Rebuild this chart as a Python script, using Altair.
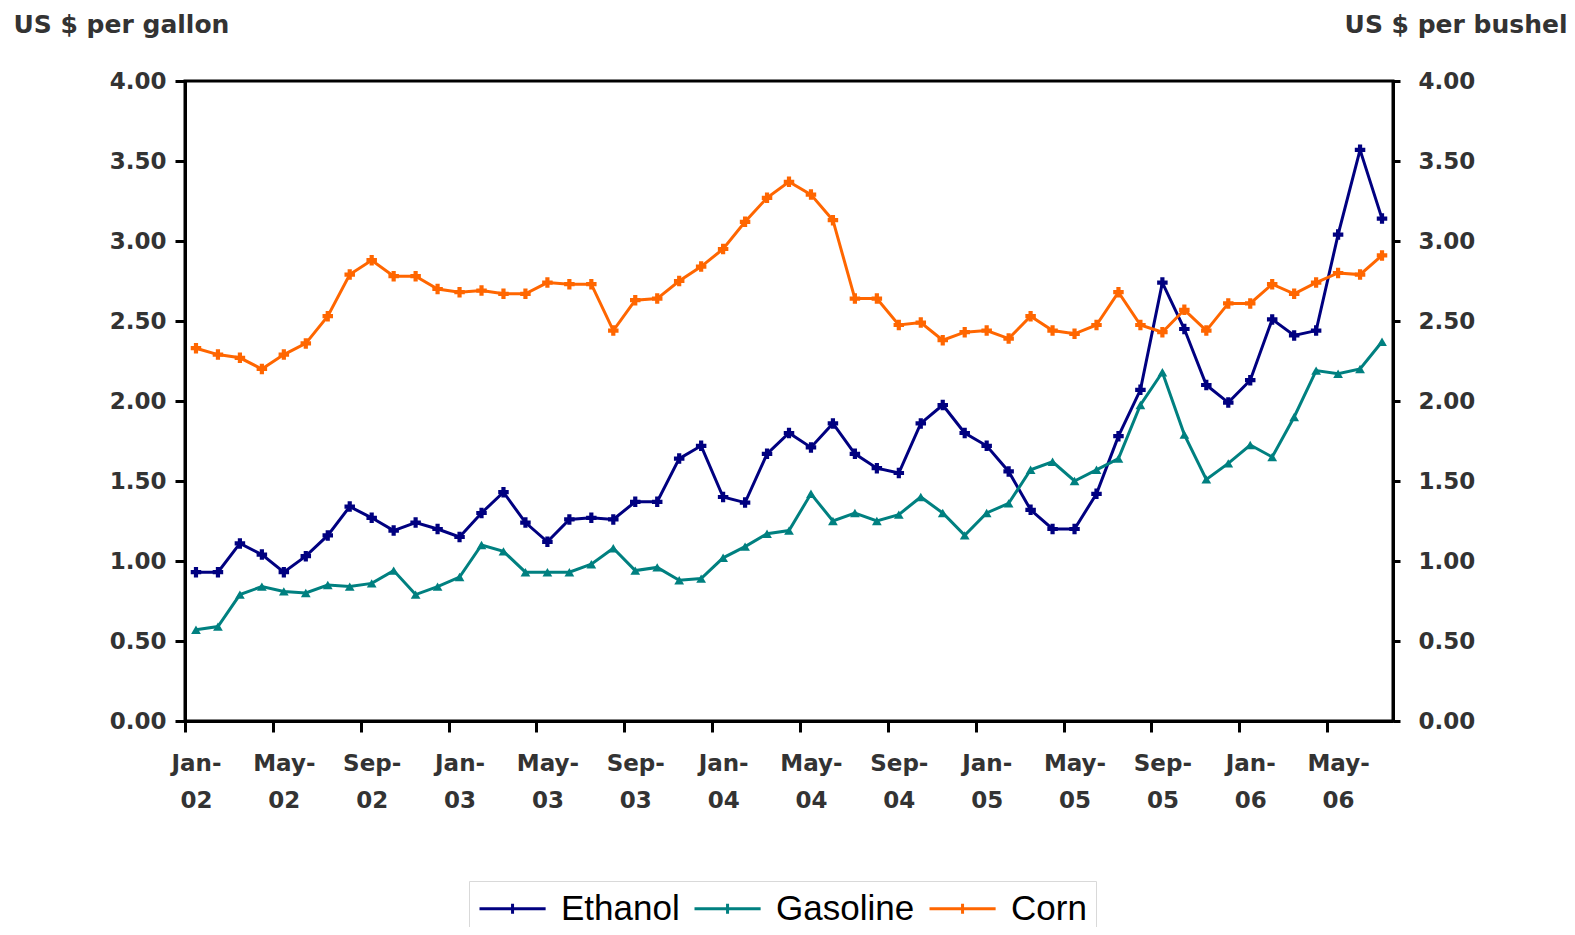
import json
import altair as alt
import pandas as pd

# ---- data (monthly, Jan-02 .. Jul-06) ----
series_names = ["Ethanol", "Gasoline", "Corn"]
series_colors = ["#000080", "#008080", "#FF6600"]

ethanol = [0.93, 0.93, 1.11, 1.04, 0.93, 1.03, 1.16, 1.34, 1.27, 1.19,
           1.24, 1.20, 1.15, 1.30, 1.43, 1.24, 1.12, 1.26, 1.27, 1.26,
           1.37, 1.37, 1.64, 1.72, 1.40, 1.365, 1.67, 1.80, 1.71, 1.86,
           1.67, 1.58, 1.55, 1.86, 1.975, 1.80, 1.72, 1.56, 1.32, 1.20,
           1.20, 1.42, 1.78, 2.07, 2.74, 2.45, 2.10, 1.99, 2.13, 2.51,
           2.41, 2.44, 3.04, 3.57, 3.14]

gasoline = [0.57, 0.59, 0.79, 0.84, 0.81, 0.80, 0.85, 0.84, 0.86, 0.94,
            0.79, 0.84, 0.90, 1.10, 1.06, 0.93, 0.93, 0.93, 0.98, 1.08,
            0.94, 0.96, 0.88, 0.89, 1.02, 1.09, 1.17, 1.19, 1.42, 1.25,
            1.30, 1.25, 1.29, 1.40, 1.30, 1.16, 1.30, 1.36, 1.57, 1.62,
            1.50, 1.57, 1.64, 1.975, 2.18, 1.79, 1.51, 1.61, 1.725, 1.65,
            1.90, 2.19, 2.17, 2.20, 2.37]

corn = [2.33, 2.29, 2.27, 2.20, 2.29, 2.36, 2.53, 2.79, 2.88, 2.78,
        2.78, 2.70, 2.68, 2.69, 2.67, 2.67, 2.74, 2.73, 2.73, 2.44,
        2.63, 2.64, 2.75, 2.84, 2.95, 3.12, 3.27, 3.37, 3.29, 3.13,
        2.64, 2.64, 2.475, 2.49, 2.38, 2.43, 2.44, 2.39, 2.53, 2.44,
        2.42, 2.475, 2.68, 2.475, 2.43, 2.57, 2.44, 2.61, 2.61, 2.73,
        2.67, 2.74, 2.80, 2.79, 2.91]

x_tick_labels = ["Jan-02", "May-02", "Sep-02", "Jan-03", "May-03", "Sep-03",
                 "Jan-04", "May-04", "Sep-04", "Jan-05", "May-05", "Sep-05",
                 "Jan-06", "May-06"]
y_ticks = [0, 0.5, 1, 1.5, 2, 2.5, 3, 3.5, 4]

n = len(ethanol)
idx = list(range(n))

df_left = pd.DataFrame({
    "i": idx * 2,
    "value": ethanol + gasoline,
    "series": ["Ethanol"] * n + ["Gasoline"] * n,
})
df_corn = pd.DataFrame({"i": idx, "value": corn, "series": ["Corn"] * n})

FONT = "DejaVu Sans"
TXT = "#333333"

# x axis: ticks between months, labels centred on the month
x_tick_vals = [-0.5 + 4 * k for k in range(len(x_tick_labels))]
lab_arr = json.dumps([[s[:4], s[4:]] for s in x_tick_labels])
x_axis = alt.Axis(
    values=x_tick_vals,
    labelExpr=f"{lab_arr}[round((datum.value + 0.5) / 4)]",
    labelOffset=11, tickSize=11, tickWidth=3, tickColor="black",
    domainColor="black", domainWidth=3, grid=False,
    labelFont=FONT, labelFontWeight="bold", labelFontSize=23, labelColor=TXT,
    labelBaseline="top", labelLineHeight=37, labelPadding=20,
    labelOverlap=False, labelFlush=False, title=None,
)
x_enc = alt.X("i:Q", scale=alt.Scale(domain=[-0.5, n - 0.5], nice=False, zero=False),
              axis=x_axis)

common_y_axis = dict(
    values=y_ticks, format=".2f", grid=False,
    tickWidth=3, tickColor="black", domainColor="black", domainWidth=3,
    labelFont=FONT, labelFontWeight="bold", labelFontSize=23, labelColor=TXT,
    titleFont=FONT, titleFontWeight="bold", titleFontSize=25, titleColor=TXT,
    titleAngle=0, titleBaseline="alphabetic", titleY=-49,
)
y_left = alt.Y("value:Q", scale=alt.Scale(domain=[0, 4], nice=False),
               axis=alt.Axis(orient="left", title="US $ per gallon", titleAlign="left",
                             titleX=-172, tickSize=10, labelPadding=9, **common_y_axis))
y_right = alt.Y("value:Q", scale=alt.Scale(domain=[0, 4], nice=False),
                axis=alt.Axis(orient="right", title="US $ per bushel", titleAlign="right",
                              titleX=174, tickSize=7, labelPadding=18, **common_y_axis))

legend = alt.Legend(
    title=None, orient="none", legendX=284, legendY=800, direction="horizontal",
    symbolType="M-1,0H2.89M0.944,-0.3V0.3", symbolSize=1156, symbolStrokeWidth=3,
    labelFont="Liberation Sans", labelFontSize=35, labelColor="black",
    labelOffset=46, padding=9, strokeColor="#d9d9d9", columnPadding=8,
)
color = alt.Color("series:N", scale=alt.Scale(domain=series_names, range=series_colors),
                  legend=legend)

line_left = alt.Chart(df_left).mark_line(strokeWidth=3).encode(x=x_enc, y=y_left, color=color)
pts_eth = alt.Chart(df_left).transform_filter(alt.datum.series == "Ethanol").mark_point(
    shape="cross", filled=True, size=110, color=series_colors[0], opacity=1
).encode(x=x_enc, y=y_left)
pts_gas = alt.Chart(df_left).transform_filter(alt.datum.series == "Gasoline").mark_point(
    shape="triangle-up", filled=True, size=95, color=series_colors[1], opacity=1
).encode(x=x_enc, y=y_left)

line_corn = alt.Chart(df_corn).mark_line(strokeWidth=3).encode(x=x_enc, y=y_right, color=color)
pts_corn = alt.Chart(df_corn).mark_point(
    shape="cross", filled=True, size=110, color=series_colors[2], opacity=1
).encode(x=x_enc, y=y_right)

left = alt.layer(line_left, pts_eth, pts_gas)
right = alt.layer(line_corn, pts_corn)

chart = alt.layer(left, right).resolve_scale(y="independent").properties(
    width=1208, height=640,
    padding={"left": 177, "top": 73, "right": 174, "bottom": 206},
    autosize=alt.AutoSizeParams(type="none"),
).configure_view(stroke="black", strokeWidth=3)

chart.save("out.html", embed_options={"renderer": "svg", "actions": False})
